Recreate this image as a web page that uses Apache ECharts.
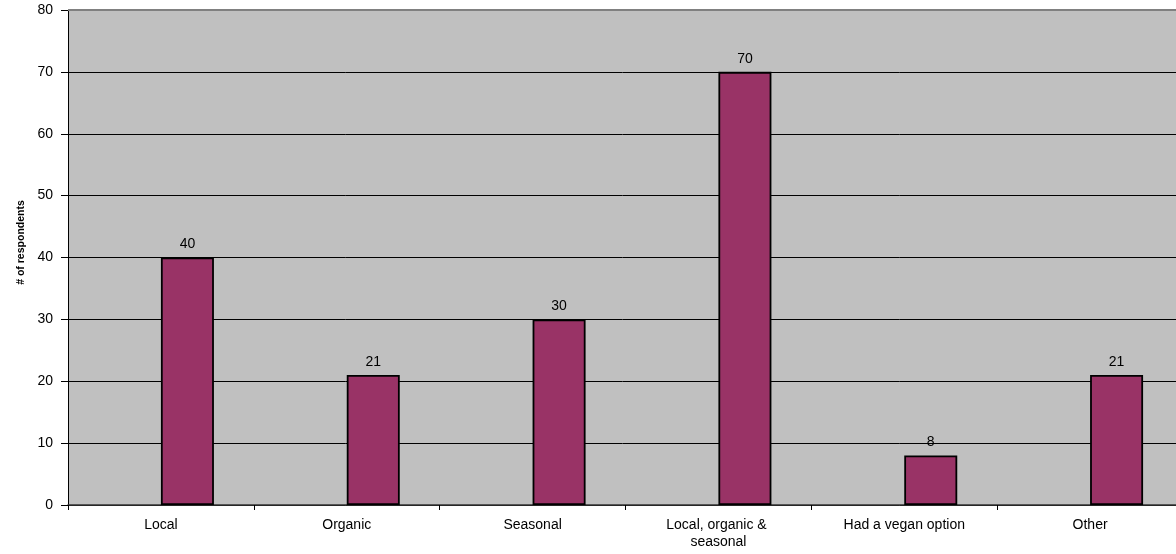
<!DOCTYPE html>
<html>
<head>
<meta charset="utf-8">
<style>
  html, body { margin: 0; padding: 0; background: #ffffff; }
  #chart { width: 1176px; height: 554px; }
</style>
<script src="https://cdn.jsdelivr.net/npm/echarts@6/dist/echarts.min.js"></script>
</head>
<body>
<div id="chart"></div>
<script>
// Menu features reported by respondents
const categories = ['Local', 'Organic', 'Seasonal', 'Local, organic & seasonal', 'Had a vegan option', 'Other'];
const respondents = [40, 21, 30, 70, 8, 21];
// Empty leading series slot (keeps the bar offset within each category)
const emptySlot = ['-', '-', '-', '-', '-', '-'];
const yTicks = { min: 0, max: 80, step: 10 };

const FONT = '"Liberation Sans", Arial, sans-serif';
const chart = echarts.init(document.getElementById('chart'), null, { renderer: 'canvas' });

chart.setOption({
  animation: false,
  backgroundColor: '#ffffff',
  grid: {
    left: 68, width: 1115, top: 10, bottom: 49,
    outerBoundsMode: 'none',
    containLabel: false,
    show: true, backgroundColor: '#c0c0c0', borderWidth: 0
  },
  xAxis: {
    type: 'category',
    data: categories,
    boundaryGap: true,
    axisLine: { show: true, lineStyle: { color: '#333333', width: 1.5 } },
    axisTick: { show: true, length: 5, inside: false, alignWithLabel: false, lineStyle: { color: '#000000', width: 1 } },
    axisLabel: {
      interval: 0, margin: 12, color: '#000000', fontFamily: FONT, fontSize: 14,
      width: 140, overflow: 'break', lineHeight: 17
    },
    splitLine: { show: false }
  },
  yAxis: {
    type: 'value',
    min: yTicks.min, max: yTicks.max, interval: yTicks.step,
    name: '# of respondents',
    nameLocation: 'middle',
    nameGap: 40,
    nameRotate: 90,
    nameTextStyle: { color: '#000000', fontFamily: FONT, fontSize: 10.5, fontWeight: 'bold', padding: [0, 0, 0, 30] },
    axisLine: { show: true, lineStyle: { color: '#000000', width: 1 } },
    axisTick: { show: true, length: 7, inside: false, lineStyle: { color: '#000000', width: 1 } },
    axisLabel: { margin: 15, color: '#000000', fontFamily: FONT, fontSize: 14 },
    splitLine: {
      show: true,
      lineStyle: { color: ['#000000', '#000000', '#000000', '#000000', '#000000', '#000000', '#000000', '#000000', '#808080'], width: 1 }
    }
  },
  series: [
    {
      type: 'bar',
      data: emptySlot,
      barWidth: 53,
      barGap: '0%'
    },
    {
      type: 'bar',
      data: respondents,
      barWidth: 53,
      barGap: '0%',
      itemStyle: { color: '#993366', borderColor: '#000000', borderWidth: 1.8 },
      label: {
        show: true, position: 'top', distance: 6,
        color: '#000000', fontFamily: FONT, fontSize: 14
      },
      markLine: {
        silent: true,
        symbol: 'none',
        label: { show: false },
        lineStyle: { color: '#808080', width: 2, type: 'solid' },
        data: [{ yAxis: yTicks.max }]
      }
    }
  ]
});
</script>
</body>
</html>
